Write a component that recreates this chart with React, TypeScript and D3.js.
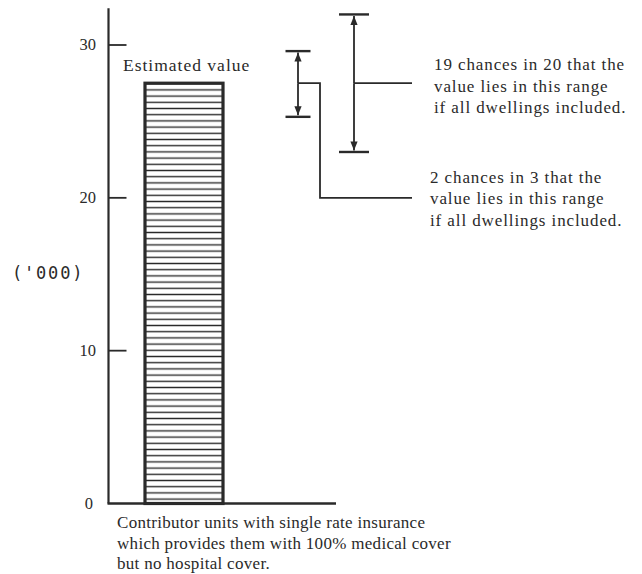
import React, { useRef, useEffect } from 'react';
import { select, scaleLinear, scaleBand, scalePoint } from 'd3';

// data
const categories = ['single rate, 100% medical, no hospital'];
const estimates = [27.5];
const yTicks = [0, 10, 20, 30];
const intervalNames = ['2 in 3', '19 in 20'];
const intervalLow = [25.3, 23.0];
const intervalHigh = [29.6, 32.0];
const connectorLevels = [20, 27.5]; // where each leader line meets its note
const noteLines = [
  ['2 chances in 3 that the', 'value lies in this range', 'if all dwellings included.'],
  ['19 chances in 20 that the', 'value lies in this range', 'if all dwellings included.'],
];
const captionLines = [
  'Contributor units with single rate insurance',
  'which provides them with 100% medical cover',
  'but no hospital cover.',
];
const yLabel = "('000)";

const W = 642;
const H = 574;
const INK = '#2a2a2a';
const SERIF = '"Liberation Serif", "Times New Roman", serif';

const App = () => {
  const svgRef = useRef(null);

  useEffect(() => {
    const svg = select(svgRef.current);
    svg.selectAll('*').remove();

    const y = scaleLinear().domain([0, 30]).range([503.5, 45]);
    const x = scaleBand().domain(categories).range([108, 260]).padding(0.3217);
    const xi = scalePoint().domain(intervalNames).range([298, 354]);
    const axisX = 108.5;
    const noteX = 412;

    // hatch pattern for the bar
    const defs = svg.append('defs');
    const pat = defs
      .append('pattern')
      .attr('id', 'hatch')
      .attr('patternUnits', 'userSpaceOnUse')
      .attr('width', 8)
      .attr('height', 6.2);
    pat
      .append('line')
      .attr('x1', 0)
      .attr('x2', 8)
      .attr('y1', 3.1)
      .attr('y2', 3.1)
      .attr('stroke', INK)
      .attr('stroke-width', 1.4);

    defs
      .append('marker')
      .attr('id', 'arrow')
      .attr('viewBox', '0 0 10 10')
      .attr('refX', 10)
      .attr('refY', 5)
      .attr('markerWidth', 9)
      .attr('markerHeight', 9)
      .attr('markerUnits', 'userSpaceOnUse')
      .attr('orient', 'auto')
      .append('path')
      .attr('d', 'M0,1 L10,5 L0,9 Z')
      .attr('fill', INK);

    // y axis line + ticks
    svg
      .append('line')
      .attr('x1', axisX)
      .attr('x2', axisX)
      .attr('y1', y(32.4))
      .attr('y2', y(0))
      .attr('stroke', INK)
      .attr('stroke-width', 2.2);

    svg
      .selectAll('.tick')
      .data(yTicks.filter(d => d > 0))
      .join('line')
      .attr('class', 'tick')
      .attr('x1', axisX)
      .attr('x2', axisX + 18)
      .attr('y1', d => y(d))
      .attr('y2', d => y(d))
      .attr('stroke', INK)
      .attr('stroke-width', 1.8);

    svg
      .selectAll('.tickLabel')
      .data(yTicks)
      .join('text')
      .attr('class', 'tickLabel')
      .attr('x', d => (d === 0 ? 93 : 96))
      .attr('y', d => y(d) + 5)
      .attr('text-anchor', 'end')
      .attr('font-family', SERIF)
      .attr('font-size', 16.5)
      .attr('fill', INK)
      .text(d => d);

    svg
      .append('text')
      .attr('x', 12)
      .attr('y', 279)
      .attr('font-family', '"DejaVu Sans Mono", monospace')
      .attr('font-size', 17)
      .attr('letter-spacing', 1.8)
      .attr('fill', INK)
      .text(yLabel);

    // bar
    svg
      .selectAll('.bar')
      .data(estimates)
      .join('rect')
      .attr('class', 'bar')
      .attr('x', (d, i) => x(categories[i]))
      .attr('y', d => y(d))
      .attr('width', x.bandwidth())
      .attr('height', d => y(0) - y(d))
      .attr('fill', 'url(#hatch)')
      .attr('stroke', INK)
      .attr('stroke-width', 3.2);

    // baseline
    svg
      .append('line')
      .attr('x1', axisX - 1)
      .attr('x2', 336)
      .attr('y1', y(0))
      .attr('y2', y(0))
      .attr('stroke', INK)
      .attr('stroke-width', 2.6);

    svg
      .append('text')
      .attr('x', 123)
      .attr('y', 71)
      .attr('font-family', SERIF)
      .attr('font-size', 17.5)
      .attr('letter-spacing', 1)
      .attr('fill', INK)
      .text('Estimated value');

    // intervals
    intervalNames.forEach((name, i) => {
      const cx = xi(name);
      const half = i === 0 ? 12.5 : 15;
      const g = svg.append('g').attr('stroke', INK).attr('fill', 'none');
      [intervalLow[i], intervalHigh[i]].forEach(v => {
        g.append('line')
          .attr('x1', cx - half)
          .attr('x2', cx + half)
          .attr('y1', y(v))
          .attr('y2', y(v))
          .attr('stroke-width', 2.4);
      });
      const mid = y(estimates[0]);
      g.append('line')
        .attr('x1', cx)
        .attr('x2', cx)
        .attr('y1', mid)
        .attr('y2', y(intervalHigh[i]) + 1.5)
        .attr('stroke-width', 1.8)
        .attr('marker-end', 'url(#arrow)');
      g.append('line')
        .attr('x1', cx)
        .attr('x2', cx)
        .attr('y1', mid)
        .attr('y2', y(intervalLow[i]) - 1.5)
        .attr('stroke-width', 1.8)
        .attr('marker-end', 'url(#arrow)');

      // leader line to note
      const lvl = y(connectorLevels[i]);
      const pts =
        i === 0
          ? [[cx, mid], [cx + 22, mid], [cx + 22, lvl], [noteX, lvl]]
          : [[cx, mid], [noteX, mid]];
      g.append('path')
        .attr('d', 'M' + pts.map(p => p.join(',')).join('L'))
        .attr('stroke-width', 1.8);

      const tx = i === 0 ? 430 : 434;
      const ty = i === 0 ? y(connectorLevels[i]) - 15 : 70;
      svg
        .append('text')
        .attr('font-family', SERIF)
        .attr('font-size', 17)
        .attr('letter-spacing', 0.9)
        .attr('fill', INK)
        .selectAll('tspan')
        .data(noteLines[i])
        .join('tspan')
        .attr('x', tx)
        .attr('y', (d, j) => ty + j * 21.5)
        .text(d => d);
    });

    // caption
    svg
      .append('text')
      .attr('font-family', SERIF)
      .attr('font-size', 17)
      .attr('letter-spacing', 0.3)
      .attr('fill', INK)
      .selectAll('tspan')
      .data(captionLines)
      .join('tspan')
      .attr('x', 117)
      .attr('y', (d, j) => 528 + j * 20.5)
      .text(d => d);
  }, []);

  return (
    <svg
      ref={svgRef}
      width={W}
      height={H}
      style={{ position: 'absolute', left: 0, top: 0, background: '#fff' }}
    ></svg>
  );
};

export default App;
